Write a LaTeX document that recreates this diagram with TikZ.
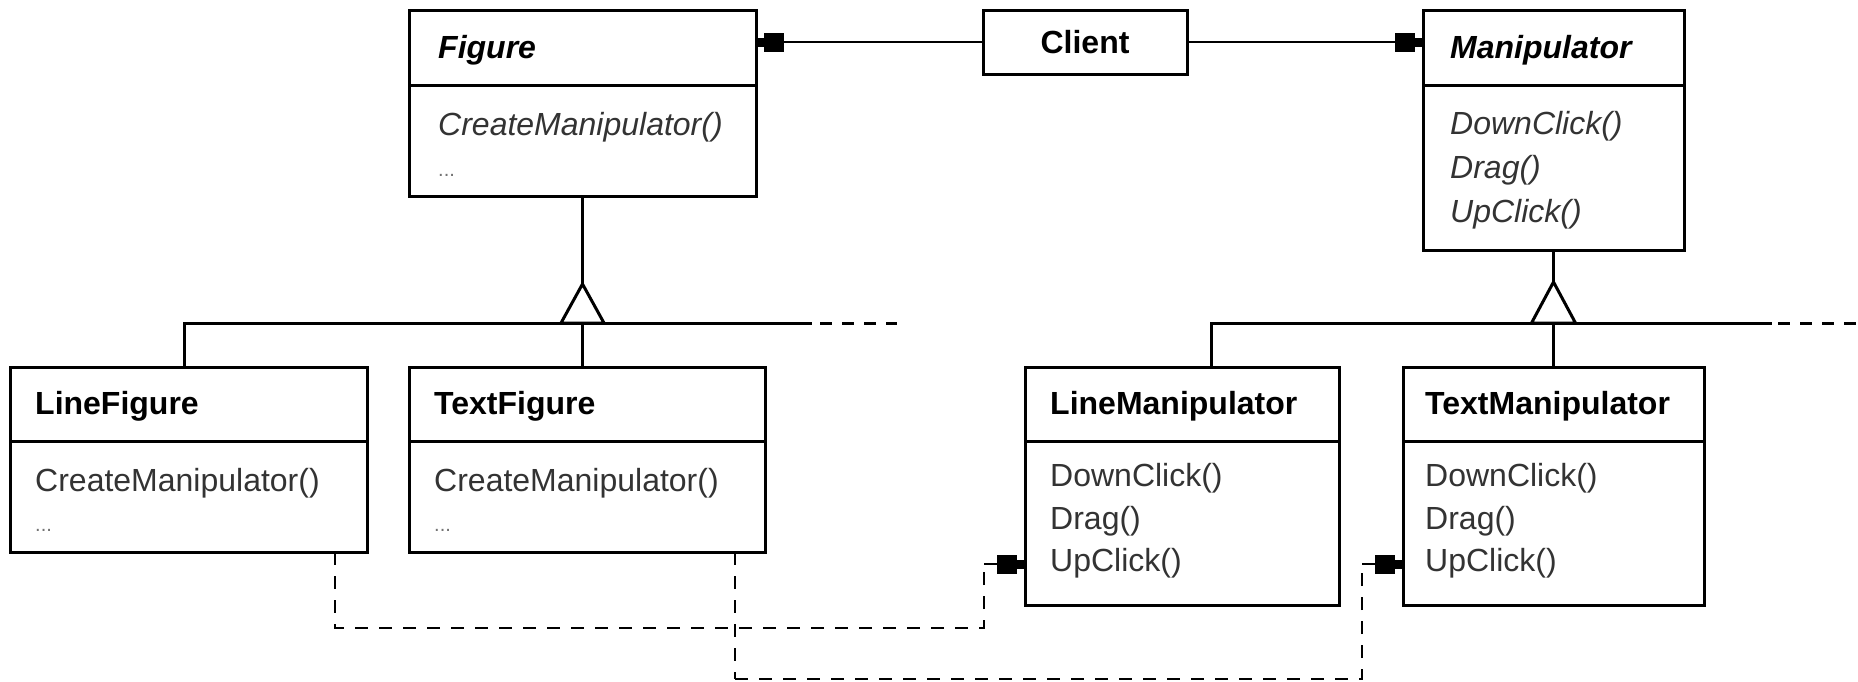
\documentclass[tikz,border=0pt]{standalone}
\usepackage{fontspec}
\setmainfont{Liberation Sans}
\usetikzlibrary{arrows.meta}
\begin{document}
\begin{tikzpicture}[x=1pt,y=-1pt,
  box/.style={draw, line width=3pt, inner sep=0pt, outer sep=0pt, anchor=north west, fill=white},
  hdr/.style={anchor=base west, inner sep=0pt, font=\fontsize{32}{38}\selectfont\bfseries},
  hdri/.style={anchor=base west, inner sep=0pt, font=\fontsize{32}{38}\selectfont\bfseries\itshape},
  op/.style={anchor=base west, inner sep=0pt, font=\fontsize{32}{38}\selectfont, text=black!80},
  opi/.style={anchor=base west, inner sep=0pt, font=\fontsize{32}{38}\selectfont\itshape, text=black!80},
  dots/.style={anchor=base west, inner sep=0pt, font=\fontsize{20}{24}\selectfont, text=black!55},
  ln/.style={line width=3pt},
  dashline/.style={line width=3pt, dash pattern=on 12pt off 10pt},
  dep/.style={line width=2.8pt, dash pattern=on 13pt off 11pt},
  depthin/.style={line width=1.6pt, dash pattern=on 13pt off 11pt},
  headtip/.style={line width=2.6pt, -{Rectangle[length=20pt,width=19pt] Rectangle[length=8pt,width=9pt]}}
]
\useasboundingbox (0,0) rectangle (1858,681);
\fill[white] (0,0) rectangle (1858,681);

% boxes
\node[box, minimum width=347pt, minimum height=186pt] (figure) at (409,10) {};
\node[box, minimum width=204pt, minimum height=64pt] (client) at (983,10) {};
\node[box, minimum width=261pt, minimum height=240pt] (manip) at (1423,10) {};
\node[box, minimum width=357pt, minimum height=185pt] (linefig) at (10,367) {};
\node[box, minimum width=356pt, minimum height=185pt] (textfig) at (409,367) {};
\node[box, minimum width=314pt, minimum height=238pt] (linemanip) at (1025,367) {};
\node[box, minimum width=301pt, minimum height=238pt] (textmanip) at (1403,367) {};

% dividers
\coordinate (dtop) at (0,85);
\coordinate (dbot) at (0,441);
\draw[ln] (figure.west |- dtop) -- (figure.east |- dtop);
\draw[ln] (manip.west |- dtop) -- (manip.east |- dtop);
\draw[ln] (linefig.west |- dbot) -- (linefig.east |- dbot);
\draw[ln] (textfig.west |- dbot) -- (textfig.east |- dbot);
\draw[ln] (linemanip.west |- dbot) -- (linemanip.east |- dbot);
\draw[ln] (textmanip.west |- dbot) -- (textmanip.east |- dbot);

% texts
\node[hdri] (tFigure) at (438,58.5) {Figure};
\node[opi] (tFigOp) at (438,135.5) {CreateManipulator()};
\node[dots] (tFigDots) at (438,176) {...};

\node[font=\fontsize{32}{38}\selectfont\bfseries, inner sep=0pt] (tClient) at (client.center) {Client};

\node[hdri] (tManip) at (1450,58.5) {Manipulator};
\node[opi] (tM1) at (1450,134.5) {DownClick()};
\node[opi] (tM2) at (1450,178.5) {Drag()};
\node[opi] (tM3) at (1450,222.5) {UpClick()};

\node[hdr] (tLineFig) at (35,414.5) {LineFigure};
\node[op] (tLF1) at (35,491.5) {CreateManipulator()};
\node[dots] (tLF2) at (35,531) {...};

\node[hdr] (tTextFig) at (434,414.5) {TextFigure};
\node[op] (tTF1) at (434,491.5) {CreateManipulator()};
\node[dots] (tTF2) at (434,531) {...};

\node[hdr] (tLineMan) at (1050,414.5) {LineManipulator};
\node[op] (tLM1) at (1050,486.5) {DownClick()};
\node[op] (tLM2) at (1050,529.5) {Drag()};
\node[op] (tLM3) at (1050,571.5) {UpClick()};

\node[hdr] (tTextMan) at (1425,414.5) {TextManipulator};
\node[op] (tTM1) at (1425,486.5) {DownClick()};
\node[op] (tTM2) at (1425,529.5) {Drag()};
\node[op] (tTM3) at (1425,571.5) {UpClick()};

% inheritance: Figure
\coordinate (h1L) at (184,323);
\coordinate (h1S) at (812,323);
\coordinate (h1E) at (897,323);
\draw[ln] (figure.south) -- ++(0,88) coordinate (apex1);
\draw[ln] (h1L |- linefig.north) -- (h1L) -- (h1S);
\draw[dashline] (h1S) ++(8,0) -- (h1E);
\draw[ln] (apex1 |- h1L) -- (apex1 |- textfig.north);
\draw[ln, fill=white, line join=miter] (apex1) -- ++(21.5,39) -- ++(-43,0) -- cycle;

% inheritance: Manipulator
\coordinate (h2L) at (1211,323);
\coordinate (h2S) at (1772,323);
\coordinate (h2E) at (1858,323);
\draw[ln] (manip.south) -- ++(0,32) coordinate (apex2);
\draw[ln] (h2L |- linemanip.north) -- (h2L) -- (h2S);
\draw[dashline] (h2S) ++(6,0) -- (h2E);
\draw[ln] (apex2 |- h2L) -- (apex2 |- textmanip.north);
\draw[ln, fill=white, line join=miter] (apex2) -- ++(22,41) -- ++(-44,0) -- cycle;

% associations from Client
\draw[headtip] (client.west) -- (client.west -| figure.east);
\draw[headtip] (client.east) -- (client.east -| manip.west);

% dependencies
\coordinate (p1a) at (335,628);
\coordinate (p1b) at (984,628);
\coordinate (p1c) at (984,564);
\draw[dep] (p1a |- linefig.south) -- (p1a) -- (p1b) -- (p1c);
\draw[headtip] (p1c) -- (p1c -| linemanip.west);

\coordinate (p2a) at (735,679);
\coordinate (p2b) at (1362,679);
\coordinate (p2c) at (1362,564);
\draw[depthin] (p2a |- textfig.south) -- (p2a);
\draw[dep] (p2a) -- (p2b) -- (p2c);
\draw[headtip] (p2c) -- (p2c -| textmanip.west);
\end{tikzpicture}
\end{document}
